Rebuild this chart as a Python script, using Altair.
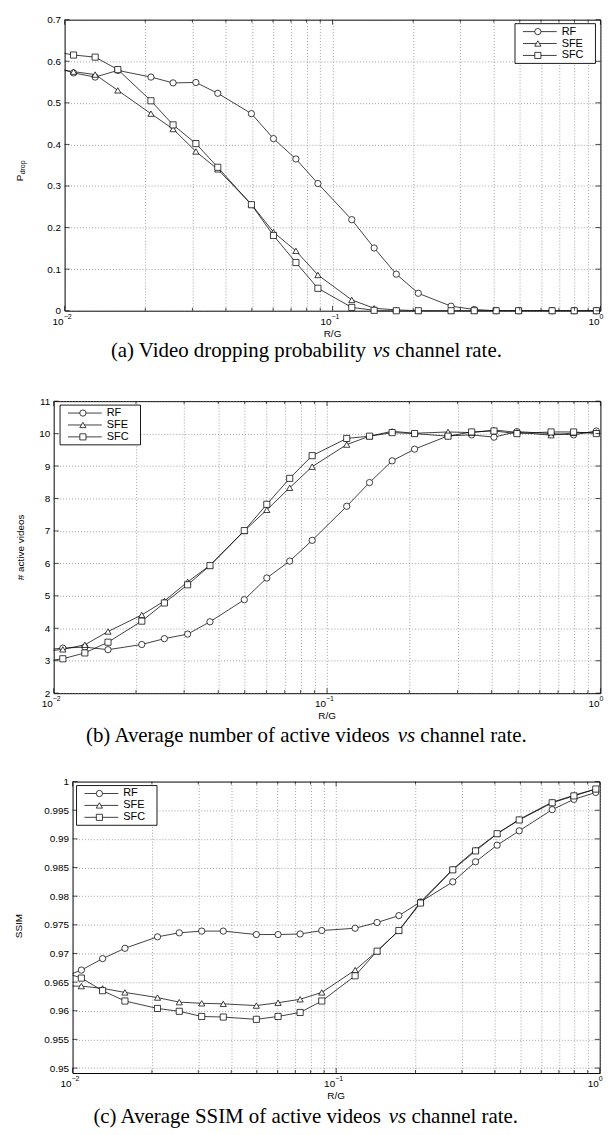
import altair as alt
import pandas as pd

# ---------------- data ----------------
SERIES = ["RF", "SFE", "SFC"]
SHAPES = ["circle", "triangle-up", "square"]
SIZES = [40, 38, 30]

# channel rate R/G of every simulated point (first one lies just left of the axis)
R_G = [0.009, 0.0108, 0.0130, 0.0158, 0.0210, 0.0254, 0.0309, 0.0373, 0.0498,
       0.0602, 0.0730, 0.0882, 0.118, 0.143, 0.173, 0.209, 0.277, 0.338,
       0.408, 0.495, 0.660, 0.798, 0.966]

PDROP_RF = [0.5886, 0.572, 0.562, 0.578, 0.562, 0.548, 0.549, 0.523, 0.474, 0.414,
            0.365, 0.306, 0.219, 0.151, 0.088, 0.042, 0.011, 0.003, 0.0, 0.0,
            0.0, 0.0, 0.0]
PDROP_SFE = [0.5821, 0.575, 0.568, 0.530, 0.474, 0.437, 0.383, 0.340, 0.256, 0.189,
             0.144, 0.086, 0.026, 0.006, 0.002, 0.0, 0.0, 0.0, 0.0, 0.0,
             0.0, 0.0, 0.0]
PDROP_SFC = [0.6245, 0.615, 0.610, 0.580, 0.505, 0.447, 0.402, 0.345, 0.255, 0.181,
             0.116, 0.054, 0.008, 0.001, 0.0, 0.0, 0.0, 0.0, 0.0, 0.0,
             0.0, 0.0, 0.0]

ACTIVE_RF = [3.32, 3.39, 3.42, 3.34, 3.50, 3.68, 3.82, 4.20, 4.88, 5.55, 6.07, 6.71,
             7.76, 8.49, 9.16, 9.52, 9.93, 9.96, 9.89, 10.06, 10.00, 9.96, 10.08]
ACTIVE_SFE = [3.28, 3.35, 3.49, 3.90, 4.41, 4.84, 5.43, 5.94, 7.00, 7.65, 8.33, 8.98,
              9.66, 9.92, 10.07, 10.01, 10.05, 10.03, 10.11, 10.04, 9.95, 10.02, 10.04]
ACTIVE_SFC = [2.97, 3.06, 3.24, 3.57, 4.22, 4.78, 5.34, 5.93, 7.01, 7.82, 8.62, 9.32,
              9.85, 9.92, 10.03, 10.00, 9.92, 10.05, 10.08, 10.00, 10.05, 10.05, 10.00]

SSIM_RF = [0.9657, 0.9671, 0.9691, 0.9709, 0.9729, 0.9736, 0.9739, 0.9739, 0.9733,
           0.9733, 0.9734, 0.9740, 0.9744, 0.9754, 0.9766, 0.9790, 0.9825, 0.9860,
           0.9889, 0.9914, 0.9951, 0.9969, 0.9981]
SSIM_SFE = [0.9643, 0.9643, 0.9639, 0.9632, 0.9623, 0.9615, 0.9613, 0.9612, 0.9609,
            0.9614, 0.9620, 0.9632, 0.9671, 0.9704, 0.9740, 0.9790, 0.9847, 0.9881,
            0.9909, 0.9934, 0.9964, 0.9976, 0.9987]
SSIM_SFC = [0.9669, 0.9657, 0.9635, 0.9617, 0.9604, 0.9599, 0.9590, 0.9589, 0.9585,
            0.9590, 0.9597, 0.9617, 0.9661, 0.9704, 0.9740, 0.9788, 0.9846, 0.9879,
            0.9909, 0.9933, 0.9963, 0.9975, 0.9987]

X_GRID = [0.01, 0.02, 0.03, 0.04, 0.05, 0.06, 0.07, 0.08, 0.09,
          0.1, 0.2, 0.3, 0.4, 0.5, 0.6, 0.7, 0.8, 0.9, 1.0]
X_MAJOR = [0.01, 0.1, 1.0]
X_MINOR = [v for v in X_GRID if v not in X_MAJOR]
X_EXP = ["\u22122", "\u22121", "0"]

Y_TICKS_A = [0, 0.1, 0.2, 0.3, 0.4, 0.5, 0.6, 0.7]
Y_TICKS_B = [2, 3, 4, 5, 6, 7, 8, 9, 10, 11]
Y_TICKS_C = [0.95, 0.955, 0.96, 0.965, 0.97, 0.975, 0.98, 0.985, 0.99, 0.995, 1]

CAPTION_A = ("(a) Video dropping probability", "vs", "channel rate.")
CAPTION_B = ("(b) Average number of active videos", "vs", "channel rate.")
CAPTION_C = ("(c) Average SSIM of active videos", "vs", "channel rate.")

# ---------------- style ----------------
SANS = "Liberation Sans"
SERIF = "Liberation Serif"
TICK_FS = 10
LEG_FS = 11
CAP_FS = 21
CAP_CENTER = 304
GRID_COLOR = "#7a7a7a"
GRID_DASH = [1, 2]
GRID_W = 0.7
LINE_W = 0.75
RIGHT = 600  # page x of every plot's right edge

TIMES = {' ': 250, '(': 333, ')': 333, '.': 250, 'a': 444, 'b': 500, 'c': 444,
         'd': 500, 'e': 444, 'f': 333, 'g': 500, 'h': 500, 'i': 278, 'j': 278,
         'k': 500, 'l': 278, 'm': 778, 'n': 500, 'o': 500, 'p': 500, 'q': 500,
         'r': 333, 's': 389, 't': 278, 'u': 500, 'v': 500, 'w': 722, 'x': 500,
         'y': 500, 'z': 444, 'A': 722, 'V': 722, 'S': 556, 'I': 333, 'M': 889}
TIMES_IT = {'v': 444, 's': 389}


def tw(s, size, italic=False):
    tot = 0
    for ch in s:
        if italic and ch in TIMES_IT:
            tot += TIMES_IT[ch]
        else:
            tot += TIMES.get(ch, 500)
    return tot * size / 1000.0


ONE = pd.DataFrame({"k": [0]})


def panel(ys, ydom, yticks, L, T, H, leg_dx, ytitle, caption, cap_dy, slot):
    W = RIGHT - L
    n = len(R_G)
    df = pd.DataFrame({
        "x": R_G * 3,
        "y": ys[0] + ys[1] + ys[2],
        "series": [s for s in SERIES for _ in range(n)],
    })
    xenc = alt.X("x:Q", title=None,
                 scale=alt.Scale(type="log", domain=[0.01, 1.0]),
                 axis=alt.Axis(values=X_GRID, labels=False, ticks=False, domain=False,
                               grid=True, gridDash=GRID_DASH, gridColor=GRID_COLOR,
                               gridWidth=GRID_W, gridOpacity=1))
    yenc = alt.Y("y:Q", title=None,
                 scale=alt.Scale(domain=ydom, nice=False, zero=False),
                 axis=alt.Axis(values=yticks, format="~g", ticks=False, tickSize=0,
                               domain=False, grid=True, gridDash=GRID_DASH,
                               gridColor=GRID_COLOR, gridWidth=GRID_W, gridOpacity=1,
                               labelFont=SANS, labelFontSize=TICK_FS, labelColor="black",
                               labelPadding=4))
    shape = alt.Shape("series:N", scale=alt.Scale(domain=SERIES, range=SHAPES), legend=None)
    size = alt.Size("series:N", scale=alt.Scale(domain=SERIES, range=SIZES), legend=None)

    layers = []
    # invisible anchor fixing this panel's slot on the page
    layers.append(alt.Chart(ONE).mark_rule(stroke="white", strokeOpacity=0, strokeWidth=0.01)
                  .encode(x=alt.value(8 - L), x2=alt.value(8 - L),
                          y=alt.value(slot[0] - T), y2=alt.value(slot[1] - T)))
    base = alt.Chart(df)
    layers.append(base.mark_line(color="black", strokeWidth=LINE_W, clip=True)
                  .encode(x=xenc, y=yenc, detail="series:N"))
    layers.append(base.transform_filter("datum.x >= 0.01")
                  .mark_point(fill="white", stroke="black", strokeWidth=LINE_W,
                              opacity=1, fillOpacity=1)
                  .encode(x=xenc, y=yenc, shape=shape, size=size))

    # inward ticks (MATLAB style)
    mn = alt.Chart(pd.DataFrame({"x": X_MINOR}))
    mj = alt.Chart(pd.DataFrame({"x": X_MAJOR}))
    for src, ln in ((mn, 3), (mj, 5)):
        layers.append(src.mark_rule(color="black", strokeWidth=0.7)
                      .encode(x=xenc, y=alt.value(H), y2=alt.value(H - ln)))
        layers.append(src.mark_rule(color="black", strokeWidth=0.7)
                      .encode(x=xenc, y=alt.value(0), y2=alt.value(ln)))
    yt = alt.Chart(pd.DataFrame({"y": yticks}))
    layers.append(yt.mark_rule(color="black", strokeWidth=0.7)
                  .encode(y=yenc, x=alt.value(0), x2=alt.value(5)))
    layers.append(yt.mark_rule(color="black", strokeWidth=0.7)
                  .encode(y=yenc, x=alt.value(W), x2=alt.value(W - 5)))

    # x tick labels 10^k
    lab = alt.Chart(pd.DataFrame({"x": X_MAJOR, "exp": X_EXP}))
    layers.append(lab.mark_text(font=SANS, fontSize=TICK_FS, align="right", baseline="middle",
                                dx=-1, color="black")
                  .encode(x=xenc, y=alt.value(H + 11), text=alt.value("10")))
    layers.append(lab.mark_text(font=SANS, fontSize=7, align="left", baseline="middle",
                                dx=-1, color="black")
                  .encode(x=xenc, y=alt.value(H + 6), text="exp:N"))
    layers.append(alt.Chart(ONE).mark_text(font=SANS, fontSize=TICK_FS, baseline="middle",
                                           color="black")
                  .encode(x=alt.value(W / 2), y=alt.value(H + 23), text=alt.value("R/G")))

    # y title
    for (txt, fs, dxp, dyp) in ytitle:
        layers.append(alt.Chart(ONE).mark_text(font=SANS, fontSize=fs, angle=270,
                                               align="left", baseline="middle", color="black")
                      .encode(x=alt.value(dxp - L), y=alt.value(dyp - T), text=alt.value(txt)))

    # legend
    bx, by = leg_dx, 4
    layers.append(alt.Chart(ONE).mark_rect(fill="white", stroke="black", strokeWidth=0.9)
                  .encode(x=alt.value(bx), x2=alt.value(bx + 81),
                          y=alt.value(by), y2=alt.value(by + 40)))
    for i, s in enumerate(SERIES):
        yy = by + 8 + 12 * i
        one = alt.Chart(pd.DataFrame({"series": [s]}))
        layers.append(one.mark_rule(color="black", strokeWidth=LINE_W)
                      .encode(x=alt.value(bx + 8), x2=alt.value(bx + 42), y=alt.value(yy)))
        layers.append(one.mark_point(fill="white", stroke="black", strokeWidth=LINE_W,
                                     opacity=1, fillOpacity=1)
                      .encode(x=alt.value(bx + 23), y=alt.value(yy), shape=shape, size=size))
        layers.append(one.mark_text(font=SANS, fontSize=LEG_FS, align="left",
                                    baseline="middle", color="black")
                      .encode(x=alt.value(bx + 47), y=alt.value(yy), text=alt.value(s)))

    # caption with italic "vs"
    left, mid, right = caption
    w_l = tw(left + " ", CAP_FS)
    w_m = tw(mid + " ", CAP_FS, italic=True)
    w_r = tw(right, CAP_FS)
    x0 = CAP_CENTER - (w_l + w_m + w_r) / 2 - L
    cy = H + cap_dy
    for txt, xx, style in ((left, x0, "normal"), (mid, x0 + w_l, "italic"),
                           (right, x0 + w_l + w_m, "normal")):
        layers.append(alt.Chart(ONE).mark_text(font=SERIF, fontSize=CAP_FS, fontStyle=style,
                                               align="left", baseline="middle", color="black")
                      .encode(x=alt.value(xx), y=alt.value(cy), text=alt.value(txt)))

    return alt.layer(*layers).properties(width=W, height=H)


def spacer():
    return alt.Chart(ONE).mark_rule(stroke="white", strokeOpacity=0, strokeWidth=0.01).encode(
        x=alt.value(0), x2=alt.value(0), y=alt.value(0), y2=alt.value(1)
    ).properties(width=1, height=1, view=alt.ViewBackground(stroke="transparent"))


pa = panel([PDROP_RF, PDROP_SFE, PDROP_SFC], [0, 0.7], Y_TICKS_A,
           L=60.6, T=15.3, H=293, leg_dx=454.4 - 1,
           ytitle=[("P", 10, 15.5, 178), ("drop", 7, 18.5, 171)],
           caption=CAPTION_A, cap_dy=41, slot=(8, 380))
pb = panel([ACTIVE_RF, ACTIVE_SFE, ACTIVE_SFC], [2, 11], Y_TICKS_B,
           L=49.6, T=396.7, H=294, leg_dx=6.4,
           ytitle=[("# active videos", 10, 16.5, 577)],
           caption=CAPTION_B, cap_dy=43, slot=(380, 762))
pc = panel([SSIM_RF, SSIM_SFE, SSIM_SFC], [0.94913, 1.0], Y_TICKS_C,
           L=69.3, T=778.3, H=293.4, leg_dx=4,
           ytitle=[("SSIM", 10, 15.5, 936)],
           caption=CAPTION_C, cap_dy=44, slot=(762, 1125))

rows = [alt.hconcat(spacer(), p, spacing=0) for p in (pa, pb, pc)]
chart = alt.vconcat(*rows, spacing=0, padding=0) \
    .configure_view(stroke="black", strokeWidth=1)

chart.save("out.html", embed_options={"renderer": "svg", "actions": False})
